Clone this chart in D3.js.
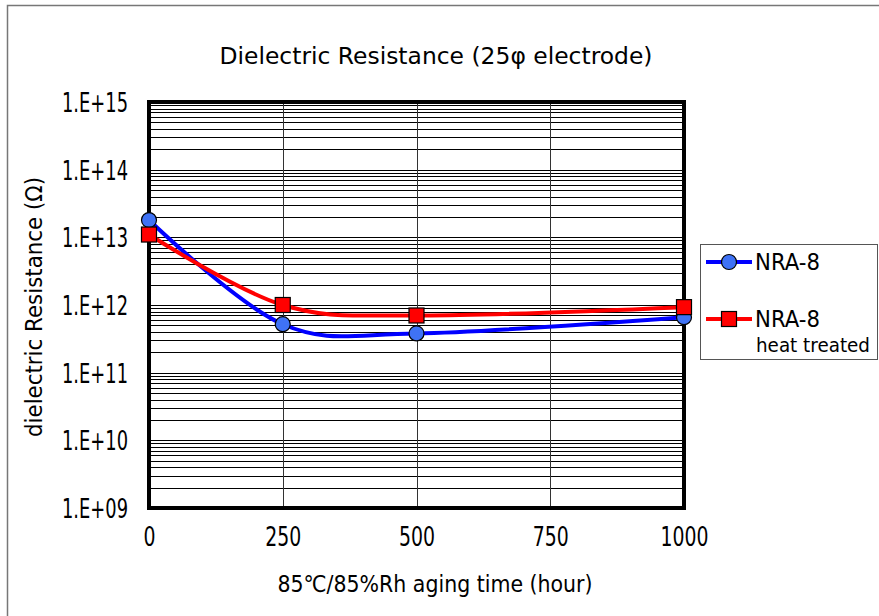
<!DOCTYPE html>
<html lang="en">
<head>
    <meta charset="utf-8">
    <title>Dielectric Resistance</title>
    <script src="https://d3js.org/d3.v7.min.js"></script>
    <style>
        body { margin: 0; background: #fff; }
        svg { display: block; }
        text { font-family: 'DejaVu Sans', sans-serif; fill: #000; }
    </style>
</head>
<body>
<svg id="chart"></svg>
<script>
    // data
    const hours = [0, 250, 500, 1000];
    const nra8 = [1.8e13, 5.2e11, 3.8e11, 6.6e11];
    const nra8Heat = [1.1e13, 1.0e12, 7.0e11, 9.3e11];
    const xTicks = [0, 250, 500, 750, 1000];
    const yTicks = [1e9, 1e10, 1e11, 1e12, 1e13, 1e14, 1e15];
    const seriesNames = ['NRA-8', 'NRA-8'];

    const WIDTH = 879, HEIGHT = 616;
    const PLOT = { left: 149, right: 684, top: 102, bottom: 508 };

    // the original font is tall and narrow: squeeze text to a given width
    function fit(sel, width) {
        sel.attr('textLength', width).attr('lengthAdjust', 'spacingAndGlyphs');
    }

    const svg = d3.select('#chart')
        .attr('width', WIDTH)
        .attr('height', HEIGHT);

    // outer chart border (only top and left are in frame)
    svg.append('path')
        .attr('d', `M7.5,${HEIGHT} V5.5 H${WIDTH}`)
        .attr('fill', 'none')
        .attr('stroke', '#777')
        .attr('stroke-width', 1.5);

    const x = d3.scaleLinear().domain([0, 1000]).range([PLOT.left, PLOT.right]);
    const y = d3.scaleLog().domain([1e9, 1e15]).range([PLOT.bottom, PLOT.top]);

    // horizontal grid, every minor step of each decade
    const minor = [];
    for (let e = 9; e < 15; e++) {
        for (let m = 1; m < 10; m++) minor.push(m * Math.pow(10, e));
    }
    svg.append('g')
        .selectAll('line')
        .data(minor)
        .join('line')
        .attr('x1', PLOT.left).attr('x2', PLOT.right)
        .attr('y1', d => Math.round(y(d)) + 0.5)
        .attr('y2', d => Math.round(y(d)) + 0.5)
        .attr('stroke', '#000')
        .attr('stroke-width', 1);

    // vertical grid
    svg.append('g')
        .selectAll('line')
        .data(xTicks.slice(1, -1))
        .join('line')
        .attr('x1', d => Math.round(x(d)) + 0.5)
        .attr('x2', d => Math.round(x(d)) + 0.5)
        .attr('y1', PLOT.top).attr('y2', PLOT.bottom)
        .attr('stroke', '#333')
        .attr('stroke-width', 1);

    // thick plot frame
    svg.append('rect')
        .attr('x', PLOT.left).attr('y', PLOT.top)
        .attr('width', PLOT.right - PLOT.left)
        .attr('height', PLOT.bottom - PLOT.top)
        .attr('fill', 'none')
        .attr('stroke', '#000')
        .attr('stroke-width', 4);

    // axes via d3 axis generators, lines hidden (frame draws them)
    const yAxis = svg.append('g')
        .attr('transform', `translate(${PLOT.left - 18},0)`)
        .call(d3.axisLeft(y).tickValues(yTicks).tickSize(0)
            .tickFormat(d => '1.E+' + d3.format('02d')(Math.round(Math.log10(d)))));
    yAxis.select('.domain').remove();
    yAxis.selectAll('text')
        .attr('font-size', 26)
        .attr('font-family', "'DejaVu Sans', sans-serif")
        .attr('dy', '0.36em')
        .call(fit, 66);

    const xAxis = svg.append('g')
        .attr('transform', `translate(0,${PLOT.bottom + 17})`)
        .call(d3.axisBottom(x).tickValues(xTicks).tickSize(0).tickFormat(d3.format('d')));
    xAxis.select('.domain').remove();
    xAxis.selectAll('text')
        .attr('font-size', 26)
        .attr('font-family', "'DejaVu Sans', sans-serif")
        .attr('dy', '0.71em')
        .each(function(d) { d3.select(this).call(fit, String(d).length * 12); });

    // titles
    svg.append('text')
        .attr('x', 436).attr('y', 64)
        .attr('text-anchor', 'middle')
        .attr('font-size', 23)
        .text('Dielectric Resistance (25\u03c6 electrode)')
        .call(fit, 433);

    svg.append('text')
        .attr('x', 435).attr('y', 592)
        .attr('text-anchor', 'middle')
        .attr('font-size', 23)
        .text('85\u2103/85%Rh aging time (hour)')
        .call(fit, 315);

    svg.append('text')
        .attr('transform', 'translate(42,307) rotate(-90)')
        .attr('text-anchor', 'middle')
        .attr('font-size', 23)
        .text('dielectric Resistance (\u03a9)')
        .call(fit, 260);

    // series
    const line = d3.line()
        .x((d, i) => x(hours[i]))
        .y(d => y(d))
        .curve(d3.curveCardinal.tension(0));

    const series = [
        { name: seriesNames[0], values: nra8, color: '#0000ff', fill: '#3f72f5', shape: 'circle' },
        { name: seriesNames[1], values: nra8Heat, color: '#ff0000', fill: '#ff0000', shape: 'square' }
    ];

    function drawMarker(g, s, cx, cy) {
        if (s.shape === 'circle') {
            g.append('circle')
                .attr('cx', cx).attr('cy', cy).attr('r', 7.5)
                .attr('fill', s.fill).attr('stroke', '#000').attr('stroke-width', 1.2);
        } else {
            g.append('rect')
                .attr('x', cx - 7.5).attr('y', cy - 7.5)
                .attr('width', 15).attr('height', 15)
                .attr('fill', s.fill).attr('stroke', '#000').attr('stroke-width', 1.2);
        }
    }

    series.forEach(s => {
        svg.append('path')
            .datum(s.values)
            .attr('d', line)
            .attr('fill', 'none')
            .attr('stroke', s.color)
            .attr('stroke-width', 4);
    });
    series.forEach(s => {
        const g = svg.append('g');
        s.values.forEach((v, i) => drawMarker(g, s, x(hours[i]), y(v)));
    });

    // legend
    const legend = svg.append('g').attr('transform', 'translate(700,244)');
    legend.append('rect')
        .attr('x', 0.5).attr('y', 0.5)
        .attr('width', 177).attr('height', 115)
        .attr('fill', '#fff')
        .attr('stroke', '#555')
        .attr('stroke-width', 1);

    const rows = [18, 75];
    series.forEach((s, i) => {
        const g = legend.append('g').attr('transform', `translate(0,${rows[i]})`);
        g.append('line')
            .attr('x1', 6).attr('x2', 52)
            .attr('stroke', s.color).attr('stroke-width', 4);
        drawMarker(g, s, 29, 0);
        g.append('text')
            .attr('x', 55).attr('y', 8)
            .attr('font-size', 23)
            .text(s.name)
            .call(fit, 65);
    });
    legend.append('text')
        .attr('x', 56).attr('y', 108)
        .attr('font-size', 20)
        .text('heat treated')
        .call(fit, 114);
</script>
</body>
</html>
